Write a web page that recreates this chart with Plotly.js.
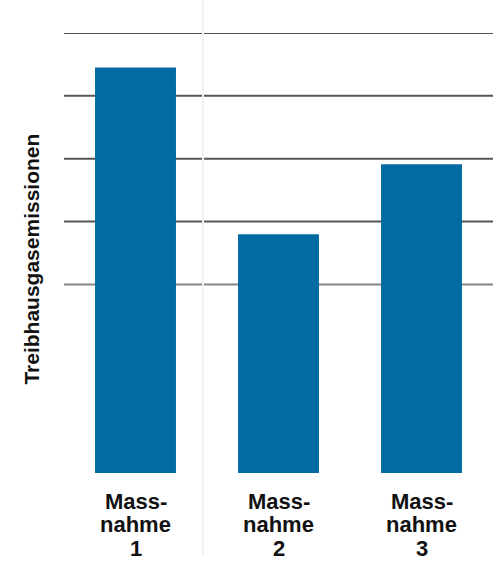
<!DOCTYPE html>
<html>
<head>
<meta charset="utf-8">
<script src="https://cdn.plot.ly/plotly-3.0.1.min.js"></script>
<style>
  html, body { margin: 0; padding: 0; background: #ffffff; }
  #chart { width: 494px; height: 561px; }
</style>
</head>
<body>
<div id="chart"></div>
<script>
// Greenhouse gas emissions per measure (relative units)
const categories = [0, 1, 2];
const categoryLines = [
  ["Mass-", "nahme", "1"],
  ["Mass-", "nahme", "2"],
  ["Mass-", "nahme", "3"]
];
const emissions = [6.45, 3.80, 4.91];
const darkGrid = [4, 5, 6, 7];
const lightGrid = [3];
const yTitle = "Treibhausgasemissionen";

const barColor = "#036ba1";
const labelFont = { family: "Liberation Sans, Arial, sans-serif", size: 22, color: "#111111", weight: "bold" };

const shapes = [];
darkGrid.forEach(v => shapes.push({
  type: "line", layer: "below", xref: "paper", yref: "y",
  x0: 0, x1: 1, y0: v, y1: v,
  line: { color: "#555555", width: 2 }
}));
lightGrid.forEach(v => shapes.push({
  type: "line", layer: "below", xref: "paper", yref: "y",
  x0: 0, x1: 1, y0: v, y1: v,
  line: { color: "#858585", width: 2 }
}));
// faint slide divider
shapes.push({
  type: "line", layer: "below", xref: "paper", yref: "paper",
  x0: 0.324, x1: 0.324, y0: -0.186, y1: 1.075,
  line: { color: "#f1f1f1", width: 2 }
});

const annotations = [];
// multi-line category labels, one annotation per line
const lineOffsets = [-28, -51.5, -75];
categories.forEach((c, i) => {
  categoryLines[i].forEach((txt, j) => {
    annotations.push({
      x: c, xref: "x", y: 0, yref: "paper",
      xanchor: "center", yanchor: "middle",
      yshift: lineOffsets[j],
      text: "<b>" + txt + "</b>", showarrow: false,
      font: labelFont
    });
  });
});
annotations.push({
  x: 0, xref: "paper", xshift: -32,
  y: 0.485, yref: "paper",
  xanchor: "center", yanchor: "middle",
  textangle: -90, showarrow: false,
  text: "<b>" + yTitle + "</b>",
  font: { family: "Liberation Sans, Arial, sans-serif", size: 21, color: "#111111" }
});

const data = [{
  type: "bar",
  x: categories,
  y: emissions,
  marker: { color: barColor, line: { width: 0 } },
  hoverinfo: "skip"
}];

const layout = {
  width: 494, height: 561,
  margin: { l: 64, r: 1, t: 33, b: 88, pad: 0 },
  paper_bgcolor: "#ffffff", plot_bgcolor: "#ffffff",
  bargap: 0.434,
  showlegend: false,
  xaxis: {
    range: [-0.5, 2.5], showgrid: false, zeroline: false,
    showticklabels: false, ticks: "", showline: false, fixedrange: true
  },
  yaxis: {
    range: [0, 7], showgrid: false, zeroline: false,
    showticklabels: false, ticks: "", showline: false, fixedrange: true
  },
  shapes: shapes,
  annotations: annotations
};

Plotly.newPlot("chart", data, layout, { displayModeBar: false, staticPlot: true });
</script>
</body>
</html>
